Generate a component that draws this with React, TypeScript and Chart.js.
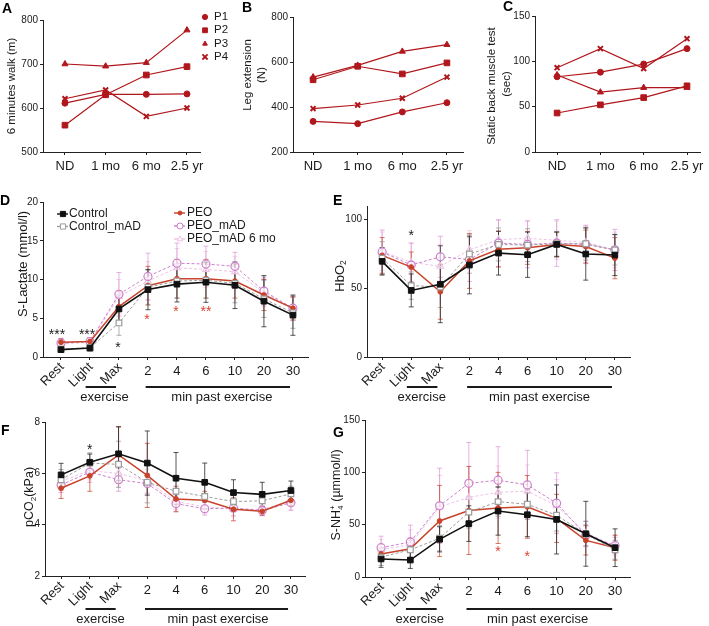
import React, { useEffect, useRef } from "react";
import { Chart, registerables } from "chart.js";
Chart.register(...registerables);

const FONT = "'Liberation Sans', Arial, Helvetica, sans-serif";
const PAGE_W = 709;
const PAGE_H = 626;
const INK = "#1a1a1a";
const DARK_RED = "#b0171c";

// ---------- Panels A-C ----------
const visitLabels = ["ND", "1 mo", "6 mo", "2.5 yr"];
const patientLabels = ["P1", "P2", "P3", "P4"];
const patientMarkers = ["circle", "rect", "triangle", "crossRot"];

const walkP1 = [611, 631, 631, 632];
const walkP2 = [561, 630, 675, 694];
const walkP3 = [700, 695, 703, 777];
const walkP4 = [621, 641, 581, 600];
const walkTicks = [500, 600, 700, 800];

const legP1 = [336, 326, 378, 419];
const legP2 = [521, 581, 547, 596];
const legP3 = [533, 585, 647, 677];
const legP4 = [393, 409, 439, 533];
const legTicks = [200, 400, 600, 800];

const backP1 = [83, 88, 97, 114];
const backP2 = [43, 52, 60, 73];
const backP3 = [85, 66, 71, 71];
const backP4 = [93, 114, 92, 125];
const backTicks = [0, 50, 100, 150];

// ---------- Panels D-G ----------
const timeLabels = ["Rest", "Light", "Max", "2", "4", "6", "10", "20", "30"];
const groupLabels = ["Control", "Control_mAD", "PEO", "PEO_mAD", "PEO_mAD 6 mo"];

// D: S-Lactate (mmol/l)
const lacControl = [0.95, 1.15, 6.2, 8.7, 9.4, 9.65, 9.25, 7.2, 5.4];
const lacControlSd = [0.3, 0.35, 1.8, 2.6, 2.3, 2.6, 3.0, 3.3, 2.6];
const lacControlMad = [1.0, 1.2, 4.4, 9.0, 9.8, 9.9, 9.5, 7.5, 5.7];
const lacControlMadSd = [0.3, 0.3, 1.6, 2.2, 2.2, 2.3, 2.5, 2.4, 2.0];
const lacPeo = [1.9, 2.0, 6.5, 9.2, 10.1, 10.1, 9.8, 8.0, 6.3];
const lacPeoSd = [0.5, 0.5, 2.0, 2.5, 2.5, 2.5, 2.2, 2.0, 1.5];
const lacPeoMad = [1.8, 2.0, 8.1, 10.4, 12.1, 12.0, 11.7, 8.5, 6.3];
const lacPeoMadSd = [0.5, 0.5, 2.8, 3.0, 2.6, 2.3, 1.8, 1.8, 1.6];
const lacPeoMad6 = [1.7, 1.9, 7.8, 9.8, 11.5, 11.3, 11.0, 8.3, 6.2];
const lacPeoMad6Sd = [0.4, 0.4, 2.2, 2.5, 2.5, 2.3, 2.0, 1.8, 1.5];
const lacTicks = [0, 5, 10, 15, 20];

// E: HbO2
const hbControl = [69.7, 48.5, 53, 67, 75.7, 74.5, 82, 75, 74.3];
const hbControlSd = [10, 12, 28, 21, 16, 16.5, 9, 19, 15];
const hbControlMad = [72, 52, 51, 75, 82, 81.5, 82.5, 82.5, 78];
const hbControlMadSd = [12, 10, 15, 14, 12, 12, 9, 12, 11];
const hbPeo = [74, 65.5, 47.5, 70, 78.5, 79.5, 82, 80.5, 72];
const hbPeoSd = [13, 11, 20, 20, 13, 12, 9, 12, 15];
const hbPeoMad = [76.5, 67, 73, 71, 83, 82, 83, 82, 78];
const hbPeoMadSd = [16, 16, 15, 16, 17, 17, 17, 14, 15];
const hbPeoMad6 = [77, 69, 66, 78, 85.5, 86.5, 85, 83.5, 78];
const hbPeoMad6Sd = [14, 14, 16, 14, 14, 13, 14, 12, 13];
const hbTicks = [0, 50, 100];

// F: pCO2 (kPa)
const pcoControl = [5.94, 6.43, 6.76, 6.4, 5.81, 5.65, 5.25, 5.18, 5.33];
const pcoControlSd = [0.45, 0.32, 1.05, 1.25, 1.0, 0.75, 0.5, 0.47, 0.37];
const pcoControlMad = [5.75, 6.4, 6.35, 5.65, 5.3, 5.1, 4.9, 4.93, 5.2];
const pcoControlMadSd = [0.4, 0.4, 0.9, 0.8, 0.5, 0.45, 0.4, 0.35, 0.3];
const pcoPeo = [5.42, 5.9, 6.72, 5.92, 5.0, 4.95, 4.6, 4.52, 4.95];
const pcoPeoSd = [0.4, 0.6, 1.1, 1.25, 0.5, 0.35, 0.45, 0.15, 0.2];
const pcoPeoMad = [5.55, 6.05, 5.75, 5.6, 4.82, 4.62, 4.65, 4.55, 4.85];
const pcoPeoMadSd = [0.3, 0.4, 0.45, 0.4, 0.3, 0.25, 0.3, 0.2, 0.3];
const pcoPeoMad6 = [5.7, 6.1, 6.0, 5.7, 4.9, 4.7, 4.6, 4.6, 4.9];
const pcoPeoMad6Sd = [0.3, 0.35, 0.5, 0.45, 0.3, 0.25, 0.3, 0.25, 0.3];
const pcoTicks = [2, 4, 6, 8];

// G: S-NH4+ (umol/l)
const nhControl = [17.2, 16.2, 36, 51, 63, 59.5, 55, 41.3, 28];
const nhControlSd = [8, 8, 12, 17, 23, 21, 33, 31, 18];
const nhControlMad = [19, 26, 37, 62, 72, 69.5, 59, 41, 26];
const nhControlMadSd = [8, 9, 12, 15, 14, 14, 15, 12, 9];
const nhPeo = [22, 27, 53.5, 63.5, 66, 67, 56, 35, 28];
const nhPeoSd = [6, 10, 34, 42, 34, 30, 23, 14, 12];
const nhPeoMad = [28, 33.5, 68, 89.5, 92.5, 88, 70.5, 40, 30];
const nhPeoMadSd = [11, 16, 36, 39, 32, 33, 29, 10, 8];
const nhPeoMad6 = [26, 31, 67, 76, 81, 82, 68, 42, 30];
const nhPeoMad6Sd = [10, 14, 30, 30, 25, 25, 25, 12, 10];
const nhTicks = [0, 50, 100, 150];

// significance marks: [x index, y value, text, color]
const lacStars: [number, number, string, string][] = [
  [-0.14, 3.35, "***", INK],
  [0.9, 3.35, "***", INK],
  [1.97, 1.7, "*", INK],
  [2.97, 5.3, "*", "#e0402f"],
  [3.97, 6.3, "*", "#e0402f"],
  [5.0, 6.3, "**", "#e0402f"],
];
const hbStars: [number, number, string, string][] = [[1.0, 91, "*", INK]];
const pcoStars: [number, number, string, string][] = [[1.0, 7.07, "*", INK]];
const nhStars: [number, number, string, string][] = [
  [4.0, 27.7, "*", "#e0402f"],
  [5.0, 23, "*", "#e0402f"],
];

// ---------- styles ----------
type GroupStyle = { color: string; fill: string; width: number; dash: number[]; marker: string; r: number; pw: number; err: string };
const groupStyles: GroupStyle[] = [
  { color: "#111111", fill: "#111111", width: 1.6, dash: [], marker: "rect", r: 4.0, pw: 1, err: "rgba(30,30,30,0.75)" },
  { color: "#9c9c9c", fill: "#ffffff", width: 1, dash: [3, 2], marker: "rect", r: 4.0, pw: 1.2, err: "rgba(150,150,150,0.75)" },
  { color: "#c8432b", fill: "#c8432b", width: 1.5, dash: [], marker: "circle", r: 2.4, pw: 1, err: "rgba(200,67,43,0.7)" },
  { color: "#cc80cc", fill: "rgba(255,255,255,0.6)", width: 1, dash: [3, 2], marker: "circle", r: 4.0, pw: 1.2, err: "rgba(215,130,205,0.6)" },
  { color: "#eec2e6", fill: "rgba(255,255,255,0.5)", width: 1, dash: [3, 2], marker: "triangle", r: 3.8, pw: 1.1, err: "rgba(240,190,225,0.65)" },
];

type Part = { t: string; sub?: boolean; sup?: boolean; stack?: boolean };
type Title = { x: number; y: number; size: number; parts: Part[] };
type LegendItem = { label: string; style: GroupStyle | null; marker: string; color: string; fill: string; dash: number[]; x0: number; x1: number; mx: number; tx: number; y: number; mr: number };

interface Decor {
  letter: [string, number, number];
  xLabels: string[];
  xFont: number;
  rotN: number;
  errors?: number[][];
  stars?: [number, number, string, string][];
  bars?: { off: number; exX: number; minX: number };
  titles: Title[];
  legend?: LegendItem[];
  legendFont?: number;
}

function drawMarker(ctx: CanvasRenderingContext2D, style: string, x: number, y: number, r: number, stroke: string, fill: string, lw: number) {
  ctx.save();
  ctx.strokeStyle = stroke;
  ctx.fillStyle = fill;
  ctx.lineWidth = lw;
  ctx.setLineDash([]);
  ctx.beginPath();
  if (style === "circle") {
    ctx.arc(x, y, r, 0, Math.PI * 2);
    ctx.fill();
    ctx.stroke();
  } else if (style === "rect") {
    ctx.rect(x - r, y - r, 2 * r, 2 * r);
    ctx.fill();
    ctx.stroke();
  } else if (style === "triangle") {
    ctx.moveTo(x, y - r);
    ctx.lineTo(x + r * 0.9, y + r * 0.6);
    ctx.lineTo(x - r * 0.9, y + r * 0.6);
    ctx.closePath();
    ctx.fill();
    ctx.stroke();
  } else {
    ctx.moveTo(x - r, y - r);
    ctx.lineTo(x + r, y + r);
    ctx.moveTo(x + r, y - r);
    ctx.lineTo(x - r, y + r);
    ctx.stroke();
  }
  ctx.restore();
}

function drawTitle(ctx: CanvasRenderingContext2D, t: Title) {
  ctx.save();
  ctx.translate(t.x, t.y);
  ctx.rotate(-Math.PI / 2);
  ctx.fillStyle = INK;
  ctx.textBaseline = "middle";
  ctx.textAlign = "left";
  const small = t.size * 0.65;
  const widths: number[] = [];
  let total = 0;
  let prevW = 0;
  t.parts.forEach((p) => {
    ctx.font = `${p.sub || p.sup ? small : t.size}px ${FONT}`;
    const w = ctx.measureText(p.t).width;
    if (p.stack) {
      const extra = Math.max(0, w - prevW);
      widths.push(extra);
      total += extra;
    } else {
      widths.push(w);
      total += w;
    }
    prevW = w;
  });
  let x = -total / 2;
  let lastX = x;
  t.parts.forEach((p, i) => {
    ctx.font = `${p.sub || p.sup ? small : t.size}px ${FONT}`;
    const dy = p.sub ? t.size * 0.3 : p.sup ? -t.size * 0.35 : 0;
    const drawX = p.stack ? lastX : x;
    ctx.fillText(p.t, drawX, dy);
    if (!p.stack) lastX = x;
    x += widths[i];
  });
  ctx.restore();
}

function makeDecor(d: Decor) {
  return {
    id: "decor",
    beforeDatasetsDraw(chart: any) {
      if (!d.errors) return;
      const ctx: CanvasRenderingContext2D = chart.ctx;
      const ys = chart.scales.y;
      ctx.save();
      for (let k = d.errors.length - 1; k >= 0; k--) {
        const meta = chart.getDatasetMeta(k);
        const ds = chart.data.datasets[k];
        ctx.strokeStyle = groupStyles[k].err;
        ctx.lineWidth = 1;
        meta.data.forEach((pt: any, i: number) => {
          const v = ds.data[i].y;
          const e = d.errors![k][i];
          const x = pt.x;
          const y1 = ys.getPixelForValue(v - e);
          const y2 = ys.getPixelForValue(v + e);
          ctx.beginPath();
          ctx.moveTo(x, y1);
          ctx.lineTo(x, y2);
          ctx.moveTo(x - 2.5, y1);
          ctx.lineTo(x + 2.5, y1);
          ctx.moveTo(x - 2.5, y2);
          ctx.lineTo(x + 2.5, y2);
          ctx.stroke();
        });
      }
      ctx.restore();
    },
    afterDraw(chart: any) {
      const ctx: CanvasRenderingContext2D = chart.ctx;
      const xs = chart.scales.x;
      const ys = chart.scales.y;
      const b = chart.chartArea.bottom;
      ctx.save();
      ctx.fillStyle = INK;
      // x labels
      ctx.font = `${d.xFont}px ${FONT}`;
      d.xLabels.forEach((lab, i) => {
        const px = xs.getPixelForValue(i);
        if (i < d.rotN) {
          ctx.save();
          ctx.translate(px + 1, b + 8);
          ctx.rotate(-Math.PI / 4);
          ctx.textAlign = "right";
          ctx.textBaseline = "middle";
          ctx.fillText(lab, 0, 0);
          ctx.restore();
        } else {
          ctx.textAlign = "center";
          ctx.textBaseline = "top";
          ctx.fillText(lab, px, b + 8);
        }
      });
      // exercise bars
      if (d.bars) {
        const ly = b + d.bars.off;
        ctx.strokeStyle = INK;
        ctx.lineWidth = 2;
        ctx.beginPath();
        ctx.moveTo(xs.getPixelForValue(0.85), ly);
        ctx.lineTo(xs.getPixelForValue(1.9), ly);
        ctx.moveTo(xs.getPixelForValue(2.92), ly);
        ctx.lineTo(xs.getPixelForValue(7.9), ly);
        ctx.stroke();
        ctx.font = `13px ${FONT}`;
        ctx.textAlign = "center";
        ctx.textBaseline = "middle";
        ctx.fillText("exercise", xs.getPixelForValue(d.bars.exX), ly + 10);
        ctx.fillText("min past exercise", xs.getPixelForValue(d.bars.minX), ly + 10);
      }
      // stars
      if (d.stars) {
        ctx.font = `14px ${FONT}`;
        ctx.textAlign = "center";
        ctx.textBaseline = "alphabetic";
        d.stars.forEach(([sx, sy, txt, col]) => {
          ctx.fillStyle = col;
          ctx.fillText(txt, xs.getPixelForValue(sx), ys.getPixelForValue(sy) + 14 * 0.57);
        });
      }
      // titles
      d.titles.forEach((t) => drawTitle(ctx, t));
      // legend
      if (d.legend) {
        ctx.font = `${d.legendFont || 12}px ${FONT}`;
        ctx.textAlign = "left";
        ctx.textBaseline = "middle";
        d.legend.forEach((it) => {
          if (it.x1 > it.x0) {
            ctx.save();
            ctx.strokeStyle = it.color;
            ctx.lineWidth = 1.4;
            ctx.setLineDash(it.dash);
            ctx.beginPath();
            ctx.moveTo(it.x0, it.y);
            ctx.lineTo(it.x1, it.y);
            ctx.stroke();
            ctx.restore();
          }
          drawMarker(ctx, it.marker, it.mx, it.y, it.mr, it.color, it.fill, it.marker === "crossRot" ? 1.8 : 1);
          ctx.fillStyle = INK;
          ctx.fillText(it.label, it.tx, it.y);
        });
      }
      // panel letter
      ctx.fillStyle = "#000";
      ctx.font = `bold 14px ${FONT}`;
      ctx.textAlign = "left";
      ctx.textBaseline = "alphabetic";
      ctx.fillText(d.letter[0], d.letter[1], d.letter[2] + 10);
      ctx.restore();
    },
  };
}

type Area = { l: number; r: number; t: number; b: number };

function buildConfig(area: Area, xMin: number, xMax: number, yMin: number, yMax: number, yTicks: number[], nX: number, datasets: any[], decor: Decor): any {
  const YW = 40;
  const axisColor = "#222";
  return {
    type: "line",
    data: { datasets },
    options: {
      responsive: false,
      animation: false,
      devicePixelRatio: 1,
      events: [],
      layout: {
        autoPadding: false,
        padding: { left: area.l - YW, right: PAGE_W - area.r, top: area.t, bottom: PAGE_H - area.b },
      },
      plugins: { legend: { display: false }, tooltip: { enabled: false } },
      scales: {
        x: {
          type: "linear",
          min: xMin,
          max: xMax,
          afterBuildTicks: (s: any) => {
            s.ticks = Array.from({ length: nX }, (_, i) => ({ value: i }));
          },
          afterFit: (s: any) => {
            s.height = 0;
          },
          ticks: { display: false },
          grid: { drawOnChartArea: false, drawTicks: true, tickLength: 3, color: axisColor },
          border: { display: true, color: axisColor, width: 1 },
        },
        y: {
          type: "linear",
          min: yMin,
          max: yMax,
          afterBuildTicks: (s: any) => {
            s.ticks = yTicks.map((v) => ({ value: v }));
          },
          afterFit: (s: any) => {
            s.width = YW;
          },
          ticks: { font: { family: FONT, size: 10 }, color: INK, padding: 2 },
          grid: { drawOnChartArea: false, drawTicks: true, tickLength: 3, color: axisColor },
          border: { display: true, color: axisColor, width: 1 },
        },
      },
    },
    plugins: [makeDecor(decor)],
  };
}

function patientDatasets(series: number[][]) {
  return series.map((vals, k) => ({
    label: patientLabels[k],
    data: vals.map((y, i) => ({ x: i, y })),
    borderColor: DARK_RED,
    backgroundColor: DARK_RED,
    borderWidth: 1.2,
    pointStyle: patientMarkers[k],
    pointRadius: patientMarkers[k] === "rect" ? 4.0 : patientMarkers[k] === "circle" ? 3 : 3.5,
    pointBorderColor: DARK_RED,
    pointBackgroundColor: DARK_RED,
    pointBorderWidth: patientMarkers[k] === "crossRot" ? 2 : 1,
    tension: 0,
    fill: false,
  }));
}

function groupDatasets(series: number[][]) {
  return series.map((vals, k) => {
    const st = groupStyles[k];
    return {
      label: groupLabels[k],
      data: vals.map((y, i) => ({ x: i, y })),
      borderColor: st.color,
      backgroundColor: st.fill,
      borderWidth: st.width,
      borderDash: st.dash,
      pointStyle: st.marker,
      pointRadius: st.r,
      pointBorderColor: st.color,
      pointBackgroundColor: st.fill,
      pointBorderWidth: st.pw,
      tension: 0,
      fill: false,
    };
  });
}

const patientLegend: LegendItem[] = patientLabels.map((lab, k) => ({
  label: lab,
  style: null,
  marker: patientMarkers[k],
  color: DARK_RED,
  fill: DARK_RED,
  dash: [],
  x0: 0,
  x1: 0,
  mx: 205,
  tx: 214,
  y: 17 + k * 13.3,
  mr: patientMarkers[k] === "rect" ? 2.4 : 2.6,
}));

function groupLegendItem(k: number, mx: number, y: number): LegendItem {
  const st = groupStyles[k];
  return {
    label: groupLabels[k],
    style: st,
    marker: st.marker,
    color: st.color,
    fill: st.fill === "#111111" || st.fill === "#c8432b" ? st.fill : "#fff",
    dash: [],
    x0: mx - 6,
    x1: mx + 5,
    mx,
    tx: mx + 6,
    y,
    mr: st.marker === "rect" ? 2.6 : st.marker === "circle" ? (k === 2 ? 2 : 3) : 3,
  };
}

const groupLegend: LegendItem[] = [
  groupLegendItem(0, 63, 214),
  groupLegendItem(1, 63, 226.5),
  { ...groupLegendItem(2, 180, 213), tx: 187 },
  { ...groupLegendItem(3, 180, 226), tx: 187 },
  { ...groupLegendItem(4, 180, 239), tx: 187 },
];

const configs: (() => any)[] = [
  // A
  () =>
    buildConfig({ l: 43, r: 200, t: 20, b: 152 }, -0.54, 3.32, 500, 800, walkTicks, 4,
      patientDatasets([walkP1, walkP2, walkP3, walkP4]),
      {
        letter: ["A", 2, 3], xLabels: visitLabels, xFont: 13, rotN: 0,
        titles: [{ x: 12, y: 86, size: 11.5, parts: [{ t: "6 minutes walk (m)" }] }],
        legend: patientLegend, legendFont: 11.5,
      }),
  // B
  () =>
    buildConfig({ l: 293, r: 463, t: 17, b: 152 }, -0.45, 3.36, 200, 800, legTicks, 4,
      patientDatasets([legP1, legP2, legP3, legP4]),
      {
        letter: ["B", 242, 2], xLabels: visitLabels, xFont: 13, rotN: 0,
        titles: [
          { x: 248, y: 75, size: 11.5, parts: [{ t: "Leg extension" }] },
          { x: 262, y: 75, size: 11.5, parts: [{ t: "(N)" }] },
        ],
      }),
  // C
  () =>
    buildConfig({ l: 535, r: 700, t: 16, b: 152 }, -0.51, 3.3, 0, 150, backTicks, 4,
      patientDatasets([backP1, backP2, backP3, backP4]),
      {
        letter: ["C", 503, 1], xLabels: visitLabels, xFont: 13, rotN: 0,
        titles: [
          { x: 492, y: 86, size: 11.5, parts: [{ t: "Static back muscle test" }] },
          { x: 507, y: 84, size: 11.5, parts: [{ t: "(sec)" }] },
        ],
      }),
  // D
  () =>
    buildConfig({ l: 43, r: 308, t: 202, b: 357 }, -0.62, 8.52, 0, 20, lacTicks, 9,
      groupDatasets([lacControl, lacControlMad, lacPeo, lacPeoMad, lacPeoMad6]),
      {
        letter: ["D", 0, 195], xLabels: timeLabels, xFont: 13, rotN: 3,
        errors: [lacControlSd, lacControlMadSd, lacPeoSd, lacPeoMadSd, lacPeoMad6Sd],
        stars: lacStars,
        bars: { off: 30, exX: 1.5, minX: 5.55 },
        titles: [{ x: 23, y: 264, size: 13, parts: [{ t: "S-Lactate (mmol/l)" }] }],
        legend: groupLegend, legendFont: 12,
      }),
  // E
  () =>
    buildConfig({ l: 367, r: 630, t: 206, b: 357 }, -0.52, 8.52, 0, 110, hbTicks, 9,
      groupDatasets([hbControl, hbControlMad, hbPeo, hbPeoMad, hbPeoMad6]),
      {
        letter: ["E", 333, 195], xLabels: timeLabels, xFont: 13, rotN: 3,
        errors: [hbControlSd, hbControlMadSd, hbPeoSd, hbPeoMadSd, hbPeoMad6Sd],
        stars: hbStars,
        bars: { off: 30, exX: 1.36, minX: 5.41 },
        titles: [{ x: 340, y: 276, size: 13, parts: [{ t: "HbO" }, { t: "2", sub: true }] }],
      }),
  // F
  () =>
    buildConfig({ l: 45, r: 305, t: 422, b: 576 }, -0.56, 8.49, 2, 8, pcoTicks, 9,
      groupDatasets([pcoControl, pcoControlMad, pcoPeo, pcoPeoMad, pcoPeoMad6]),
      {
        letter: ["F", 1, 425], xLabels: timeLabels, xFont: 13, rotN: 3,
        errors: [pcoControlSd, pcoControlMadSd, pcoPeoSd, pcoPeoMadSd, pcoPeoMad6Sd],
        stars: pcoStars,
        bars: { off: 33, exX: 1.37, minX: 5.46 },
        titles: [{ x: 30, y: 497, size: 12.5, parts: [{ t: "pCO" }, { t: "2", sub: true }, { t: "(kPa)" }] }],
      }),
  // G
  () =>
    buildConfig({ l: 365, r: 630, t: 420, b: 577 }, -0.55, 8.51, 0, 150, nhTicks, 9,
      groupDatasets([nhControl, nhControlMad, nhPeo, nhPeoMad, nhPeoMad6]),
      {
        letter: ["G", 333, 427], xLabels: timeLabels, xFont: 13, rotN: 3,
        errors: [nhControlSd, nhControlMadSd, nhPeoSd, nhPeoMadSd, nhPeoMad6Sd],
        stars: nhStars,
        bars: { off: 32, exX: 1.32, minX: 5.35 },
        titles: [{
          x: 337, y: 495, size: 12.5,
          parts: [{ t: "S-NH" }, { t: "4", sub: true }, { t: "+", sup: true, stack: true }, { t: " (µmmol/l)" }],
        }],
      }),
];

function PanelCanvas({ build }: { build: () => any }) {
  const ref = useRef<HTMLCanvasElement>(null);
  useEffect(() => {
    const chart = new Chart(ref.current as HTMLCanvasElement, build());
    return () => chart.destroy();
  }, [build]);
  return (
    <canvas
      ref={ref}
      width={PAGE_W}
      height={PAGE_H}
      style={{ position: "absolute", left: 0, top: 0, width: PAGE_W, height: PAGE_H }}
    />
  );
}

export default function App() {
  return (
    <div style={{ position: "absolute", left: 0, top: 0, width: PAGE_W, height: PAGE_H, background: "#fff", overflow: "hidden" }}>
      {configs.map((c, i) => (
        <PanelCanvas key={i} build={c} />
      ))}
    </div>
  );
}
